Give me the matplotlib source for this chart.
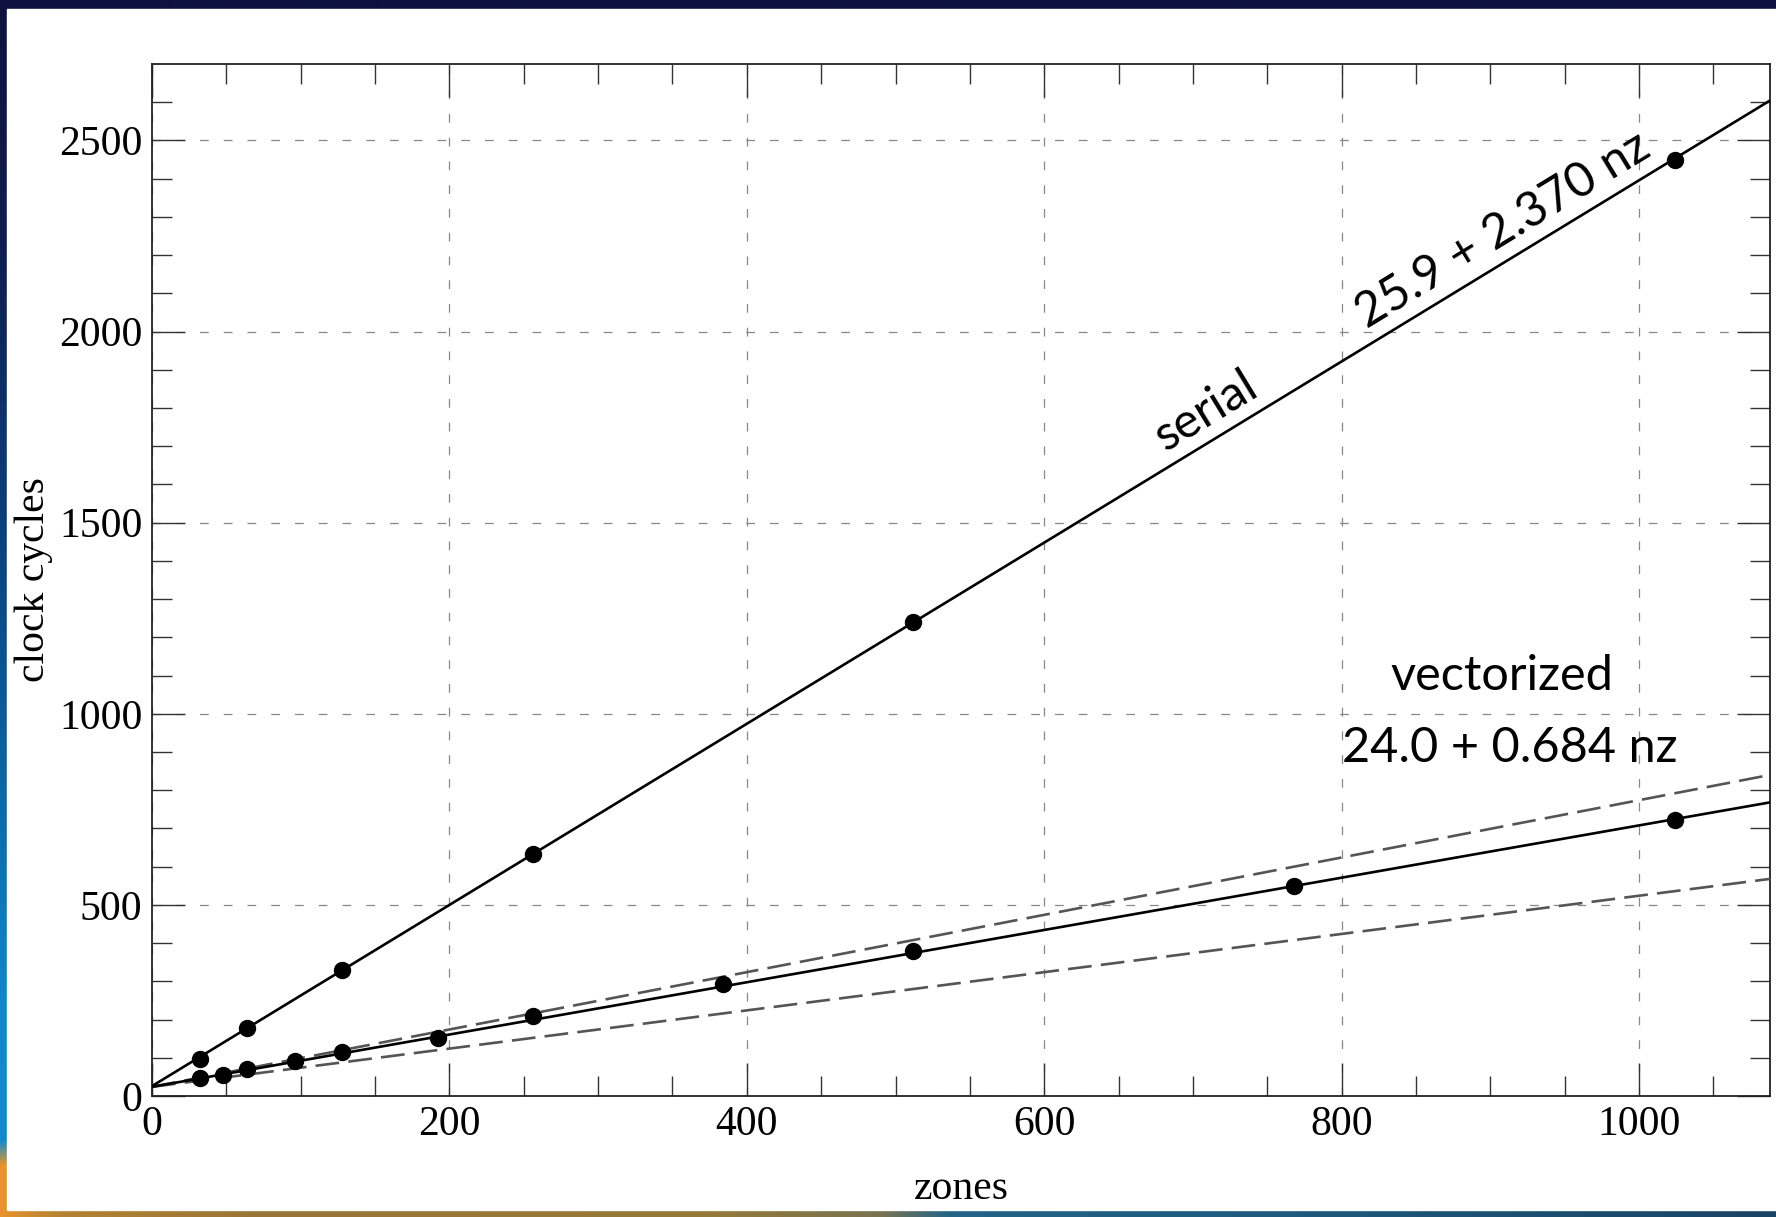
import numpy as np
from matplotlib import pyplot as plt
from matplotlib.patches import Rectangle

# measured points
serial_nz = [32, 64, 128, 256, 512, 1024]
serial_cyc = [96, 178, 330, 633, 1240, 2450]
vec_nz = [32, 48, 64, 96, 128, 192, 256, 384, 512, 768, 1024]
vec_cyc = [46, 55, 70, 91, 114, 153, 210, 293, 380, 550, 722]

# fits: intercept, slope
serial_fit = [25.9, 2.370]
vec_fit = [24.0, 0.684]
vec_bounds = [[24.0, 0.75], [24.0, 0.50]]

xmax = 1088
ymax = 2700

W, H = 1776, 1217
fig = plt.figure(figsize=(W / 100, H / 100), dpi=100)

# slide background behind the white chart area
bg = fig.add_axes([0, 0, 1, 1])
bg.set_axis_off()
img = np.zeros((H, W, 3))
ys = np.arange(H)
xs = np.arange(W)
navy = np.array([15, 18, 64]) / 255
img[:, :] = navy
left_y = [0, 250, 600, 1000, 1140, 1165, 1217]
left_c = np.array([[15, 18, 64], [14, 30, 80], [10, 74, 133], [15, 136, 200],
                   [16, 140, 205], [232, 148, 44], [232, 148, 44]]) / 255
for k in range(3):
    img[:, :8, k] = np.interp(ys, left_y, left_c[:, k])[:, None]
bot_x = [0, 60, 250, 700, 880, 950, 1300, 1776]
bot_c = np.array([[232, 148, 44], [180, 130, 50], [154, 118, 55], [150, 122, 56],
                  [120, 115, 80], [35, 100, 135], [30, 90, 125], [26, 68, 100]]) / 255
for k in range(3):
    img[1210:, :, k] = np.interp(xs, bot_x, bot_c[:, k])[None, :]
bg.imshow(img, aspect='auto', extent=[0, 1, 0, 1], origin='upper')
bg.add_patch(Rectangle((7 / W, 1 - 1210 / H), 1, (1210 - 9) / H,
                       transform=bg.transAxes, color='white', zorder=2))
bg.set_xlim(0, 1)
bg.set_ylim(0, 1)

ax = fig.add_axes([152 / W, 1 - 1096 / H, (1770 - 152) / W, (1096 - 64) / H])
ax.set_facecolor('white')

xx = np.array([0, xmax])
for a, b in vec_bounds:
    ax.plot(xx, a + b * xx, color='#555555', lw=1.9, linestyle=(0, (9, 3.5)), zorder=3)
ax.plot(xx, serial_fit[0] + serial_fit[1] * xx, color='black', lw=1.9, zorder=4)
ax.plot(xx, vec_fit[0] + vec_fit[1] * xx, color='black', lw=1.9, zorder=4)
ax.plot(serial_nz, serial_cyc, 'o', color='black', ms=11.5, zorder=5)
ax.plot(vec_nz, vec_cyc, 'o', color='black', ms=11.5, zorder=5)

ax.set_xlim(0, xmax)
ax.set_ylim(0, ymax)
ax.set_xticks(np.arange(0, 1001, 200))
ax.set_xticks(np.arange(0, xmax, 50), minor=True)
ax.set_yticks(np.arange(0, 2501, 500))
ax.set_yticks(np.arange(0, ymax, 100), minor=True)
ax.tick_params(which='both', direction='in', top=True, right=True, color='#333333', width=1)
ax.tick_params(which='major', length=24, labelsize=30, pad=7)
ax.tick_params(which='minor', length=14.5)
for lab in ax.get_xticklabels() + ax.get_yticklabels():
    lab.set_family('Liberation Serif')
for s in ax.spines.values():
    s.set_linewidth(1.3)
    s.set_color('#222222')
ax.grid(True, which='major', color='#888888', lw=0.9, linestyle=(0, (7, 12)))

ax.set_xlabel('zones', fontsize=30, family='Liberation Serif', labelpad=18)
ax.set_ylabel('clock cycles', fontsize=30, family='Liberation Serif', labelpad=4)

# labels along the serial line
ang = np.degrees(np.arctan(serial_fit[1] * (1032 / ymax) / (1618 / xmax)))
for x0, txt in [(718, 'serial'), (918, '25.9 + 2.370 nz')]:
    ax.annotate(txt, (x0, serial_fit[0] + serial_fit[1] * x0), xytext=(-2, 4),
                textcoords='offset points', rotation=ang, rotation_mode='anchor',
                ha='center', va='bottom', fontsize=35, family='Lato')

ax.text(908, 1100, 'vectorized', ha='center', va='center', fontsize=35, family='Lato')
ax.text(913, 911, '24.0 + 0.684 nz', ha='center', va='center', fontsize=35, family='Lato')

plt.savefig('out.png', dpi=100)
